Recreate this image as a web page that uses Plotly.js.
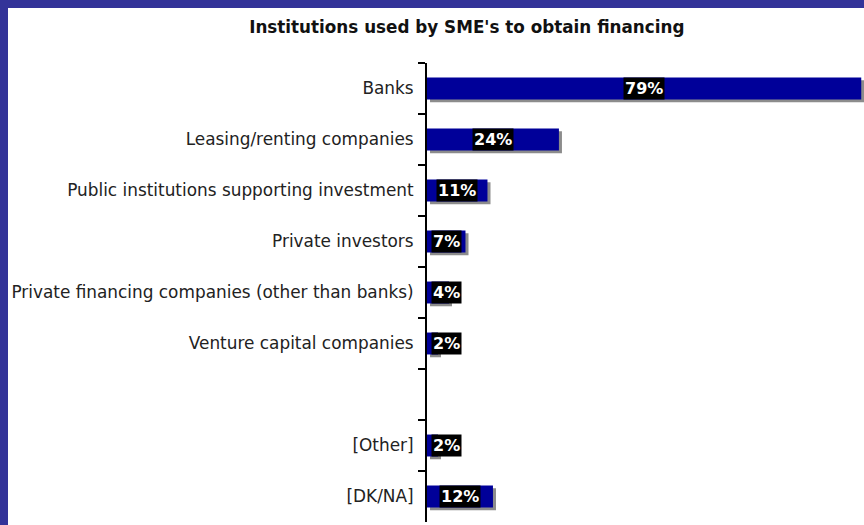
<!DOCTYPE html>
<html>
<head>
<meta charset="utf-8">
<script src="https://cdn.plot.ly/plotly-3.0.1.min.js"></script>
<style>
  html, body { margin: 0; padding: 0; background: #333399; width: 864px; height: 525px; overflow: hidden; }
  #chart { position: absolute; left: 8px; top: 8px; width: 856px; height: 517px; background: #ffffff; }
</style>
</head>
<body>
<div id="chart"></div>
<script>
// Category order (top to bottom), including the blank spacer slot
const categories = [
  "Banks",
  "Leasing/renting companies",
  "Public institutions supporting investment",
  "Private investors",
  "Private financing companies (other than banks)",
  "Venture capital companies",
  " ",
  "[Other]",
  "[DK/NA]"
];
// Categories with data and their values (%)
const dataCategories = [
  "Banks",
  "Leasing/renting companies",
  "Public institutions supporting investment",
  "Private investors",
  "Private financing companies (other than banks)",
  "Venture capital companies",
  "[Other]",
  "[DK/NA]"
];
const values = [79, 24, 11, 7, 4, 2, 2, 12];
const valueLabels = ["79%", "24%", "11%", "7%", "4%", "2%", "2%", "12%"];

const barWidth = 0.43;
const shadowShiftX = 0.55;   // data units (~3px)
const shadowShiftY = 0.055;  // category units (~3px)

const shadow = {
  type: "bar",
  orientation: "h",
  y: dataCategories,
  x: values,
  base: values.map(() => shadowShiftX),
  width: barWidth,
  offset: -barWidth / 2 + shadowShiftY,
  marker: { color: "#8c8c8c", line: { width: 0 } },
  hoverinfo: "skip",
  showlegend: false
};
const bars = {
  type: "bar",
  orientation: "h",
  y: dataCategories,
  x: values,
  width: barWidth,
  offset: -barWidth / 2,
  marker: { color: "#000099", line: { width: 0 } },
  showlegend: false
};

const annotations = dataCategories.map((c, i) => ({
  x: Math.max(values[i] / 2, 3.5),
  y: c,
  xref: "x",
  yref: "y",
  text: valueLabels[i],
  showarrow: false,
  xanchor: "center",
  yanchor: "middle",
  bgcolor: "#000000",
  borderpad: 1,
  font: { family: "DejaVu Sans", size: 16, color: "#ffffff", weight: "bold" }
}));

const layout = {
  width: 856,
  height: 517,
  paper_bgcolor: "#ffffff",
  plot_bgcolor: "#ffffff",
  margin: { l: 419, r: 0, t: 54.5, b: 2.5 },
  barmode: "overlay",
  title: {
    text: "<b>Institutions used by SME's to obtain financing</b>",
    font: { family: "DejaVu Sans", size: 16.8, color: "#111111" },
    x: 0.536, xref: "container", xanchor: "center",
    y: 0.963, yref: "container", yanchor: "middle"
  },
  xaxis: {
    range: [0, 79.5],
    visible: false,
    fixedrange: true
  },
  yaxis: {
    type: "category",
    categoryorder: "array",
    categoryarray: categories,
    range: [8.5, -0.5],
    showline: true,
    linecolor: "#000000",
    linewidth: 2,
    ticks: "outside",
    tickson: "boundaries",
    ticklen: 7,
    tickwidth: 1.5,
    tickcolor: "#000000",
    ticklabelstandoff: 8,
    showgrid: false,
    zeroline: false,
    tickfont: { family: "DejaVu Sans", size: 16.9, color: "#222222" },
    fixedrange: true
  },
  annotations: annotations
};

Plotly.newPlot("chart", [shadow, bars], layout, { displayModeBar: false, staticPlot: true });
</script>
</body>
</html>
